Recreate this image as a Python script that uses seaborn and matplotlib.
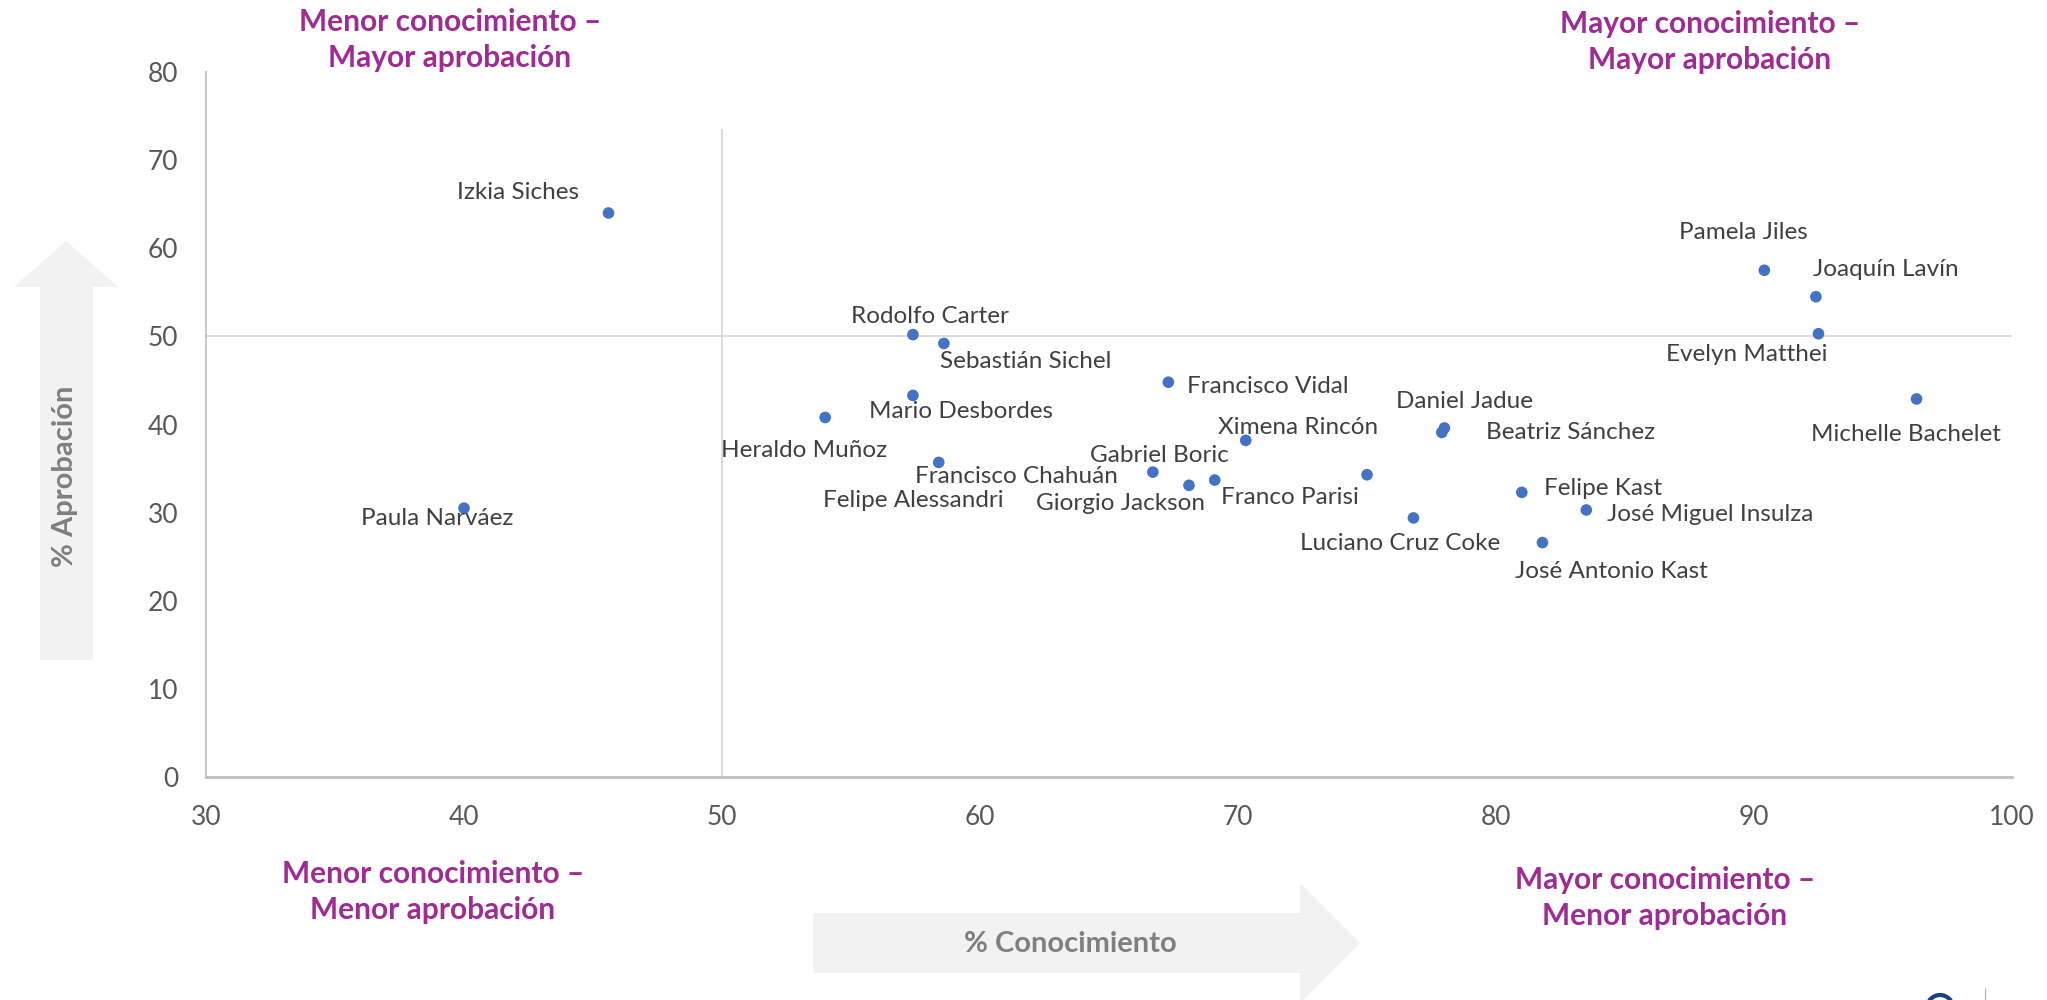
import matplotlib.pyplot as plt
import matplotlib.patches as mpatches
import pandas as pd
import seaborn as sns

# datos: % conocimiento (x) y % aprobación (y)
names = ["Izkia Siches", "Paula Narváez", "Rodolfo Carter", "Sebastián Sichel",
         "Francisco Vidal", "Mario Desbordes", "Heraldo Muñoz", "Ximena Rincón",
         "Daniel Jadue", "Beatriz Sánchez", "Felipe Alessandri", "Francisco Chahuán",
         "Gabriel Boric", "Giorgio Jackson", "Franco Parisi", "Luciano Cruz Coke",
         "Felipe Kast", "José Miguel Insulza", "José Antonio Kast", "Pamela Jiles",
         "Joaquín Lavín", "Evelyn Matthei", "Michelle Bachelet"]
conocimiento = [45.6, 40.0, 57.4, 58.6, 67.3, 57.4, 54.0, 70.3, 78.0, 77.9, 58.4, 66.7,
                69.1, 68.1, 75.0, 76.8, 81.0, 83.5, 81.8, 90.4, 92.4, 92.5, 96.3]
aprobacion = [64.0, 30.5, 50.2, 49.2, 44.8, 43.3, 40.8, 38.2, 39.6, 39.1, 35.7, 34.6,
              33.7, 33.1, 34.3, 29.4, 32.3, 30.3, 26.6, 57.5, 54.5, 50.3, 42.9]

# posición de las etiquetas (pixeles respecto al punto)
label_offsets = {
    "Izkia Siches": (-90, 21), "Paula Narváez": (-27, -10), "Rodolfo Carter": (17, 18),
    "Sebastián Sichel": (82, -18), "Francisco Vidal": (99, -4), "Mario Desbordes": (48, -16),
    "Heraldo Muñoz": (-21, -33), "Ximena Rincón": (52, 13), "Daniel Jadue": (20, 27),
    "Beatriz Sánchez": (129, 0), "Felipe Alessandri": (-25, -38), "Francisco Chahuán": (-136, -4),
    "Gabriel Boric": (-55, 25), "Giorgio Jackson": (-68, -18), "Franco Parisi": (-77, -23),
    "Luciano Cruz Coke": (-13, -26), "Felipe Kast": (81, 4), "José Miguel Insulza": (124, -5),
    "José Antonio Kast": (69, -29), "Pamela Jiles": (-21, 38), "Joaquín Lavín": (70, 27),
    "Evelyn Matthei": (-72, -21), "Michelle Bachelet": (-11, -36),
}

sns.set_style("white")
plt.rcParams['font.family'] = ['Lato', 'DejaVu Sans']

W, H = 2047, 1000
df = pd.DataFrame({'nombre': names, 'conocimiento': conocimiento, 'aprobacion': aprobacion})

fig = plt.figure(figsize=(W / 100, H / 100), dpi=100)
ax = fig.add_axes([206 / W, 1 - 777 / H, (2012 - 206) / W, (777 - 72) / H])

ax.axhline(50, color='#D9D9D9', lw=1.3, zorder=1)
ax.vlines(50, 0, 73.5, color='#D9D9D9', lw=1.3, zorder=1)

sns.scatterplot(data=df, x='conocimiento', y='aprobacion', ax=ax, color='#4472C4',
                s=70, edgecolor='none', zorder=3, legend=False)

ax.set_xlim(30, 100)
ax.set_ylim(0, 80)
ax.set_xticks(range(30, 101, 10))
ax.set_yticks(range(0, 81, 10))
ax.tick_params(length=0, pad=20, labelsize=19, labelcolor='#595959')
ax.set_xlabel('')
ax.set_ylabel('')
for side in ['top', 'right']:
    ax.spines[side].set_visible(False)
ax.spines['left'].set_color('#C8C8C8')
ax.spines['left'].set_linewidth(1.5)
ax.spines['bottom'].set_color('#BFBFBF')
ax.spines['bottom'].set_linewidth(2)

for name, x, y in zip(names, conocimiento, aprobacion):
    dx, dy = label_offsets[name]
    ax.annotate(name, (x, y), xytext=(dx, dy), textcoords='offset pixels',
                ha='center', va='center', fontsize=17.5, color='#404040')


def fx(px):
    return px / W


def fy(py):
    return 1 - py / H


purple = '#A02B93'
quad = [(450, 40, "Menor conocimiento –\nMayor aprobación"),
        (1710, 42, "Mayor conocimiento –\nMayor aprobación"),
        (433, 892, "Menor conocimiento –\nMenor aprobación"),
        (1665, 898, "Mayor conocimiento –\nMenor aprobación")]
for px, py, txt in quad:
    fig.text(fx(px), fy(py), txt, ha='center', va='center', fontsize=21.5,
             fontweight='bold', color=purple, linespacing=1.35)

# flechas de los ejes
up = [(40, 660), (93, 660), (93, 287), (118, 287), (66, 241), (14, 287), (40, 287)]
right = [(813, 913), (1300, 913), (1300, 883), (1360, 943), (1300, 1003), (1300, 973), (813, 973)]
for pts in (up, right):
    fig.patches.append(mpatches.Polygon([(fx(a), fy(b)) for a, b in pts], closed=True,
                                        transform=fig.transFigure, facecolor='#F2F2F2',
                                        edgecolor='none', zorder=0))

fig.text(fx(65), fy(476), "% Aprobación", rotation=90, ha='center', va='center',
         fontsize=21, fontweight='bold', color='#7F7F7F')
fig.text(fx(1070), fy(944), "% Conocimiento", ha='center', va='center',
         fontsize=21, fontweight='bold', color='#7F7F7F')

# logo recortado abajo a la derecha
fig.patches.append(mpatches.Ellipse((fx(1940), fy(1008)), 26 / W, 26 / H, transform=fig.transFigure,
                                    facecolor='none', edgecolor='#1B3F8B', lw=3))
fig.lines.append(plt.Line2D([fx(1985), fx(1985)], [fy(988), fy(1000)], transform=fig.transFigure,
                            color='#BFBFBF', lw=1))

fig.savefig('out.png', dpi=100)
